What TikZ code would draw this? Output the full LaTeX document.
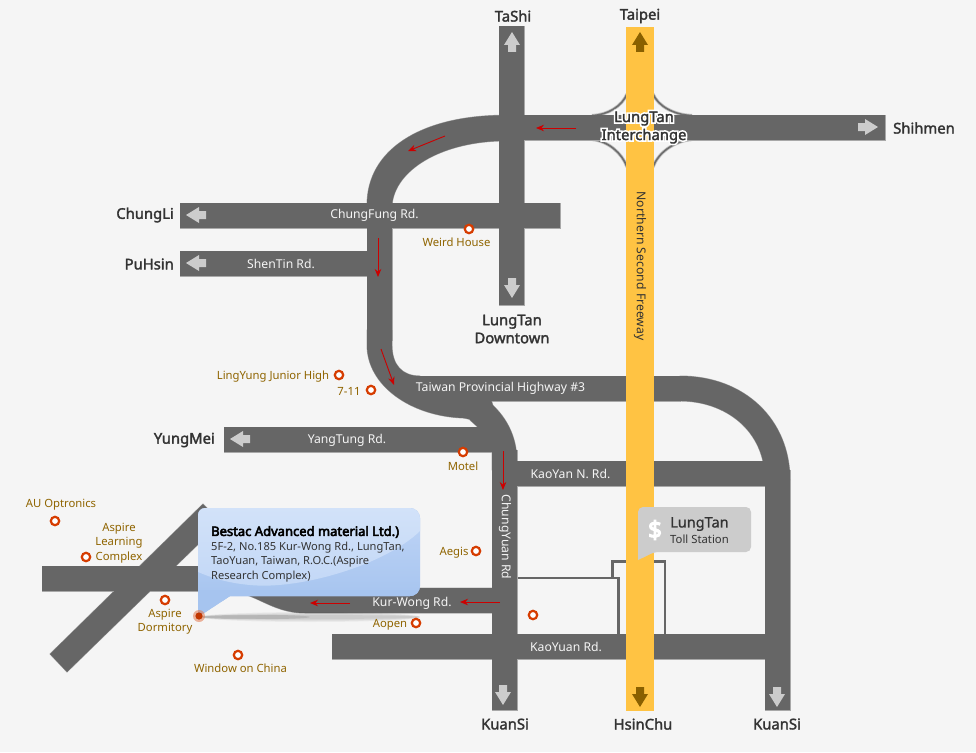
\documentclass[tikz,border=0pt]{standalone}
\usepackage{fontspec}
\setmainfont{Noto Sans}
\definecolor{bgc}{HTML}{F5F5F5}
\definecolor{roadc}{HTML}{666666}
\definecolor{edgec}{HTML}{A8A8A8}
\definecolor{fwy}{HTML}{FFC343}
\definecolor{brownc}{HTML}{8A6000}
\definecolor{lblc}{HTML}{8F6400}
\definecolor{cityc}{HTML}{333333}
\definecolor{redc}{HTML}{CC0000}
\definecolor{ringc}{HTML}{D63C00}
\definecolor{iconc}{HTML}{CCCCCC}
\definecolor{ramp}{HTML}{6E6E6E}
\definecolor{bluea}{HTML}{D2E2F9}
\definecolor{blueb}{HTML}{C2D7F6}
\definecolor{bluec}{HTML}{BBD2F5}
\definecolor{blued}{HTML}{A6C4EF}
\usetikzlibrary{arrows.meta}
\newcommand{\halo}[1]{\rlap{\addfontfeature{FakeBold=24}\color{white}#1}{\addfontfeature{FakeBold=2}#1}}
\tikzset{
  road/.style={fill=roadc},
  city/.style={font=\fontsize{14.8}{18}\selectfont\addfontfeature{FakeBold=2},text=cityc,inner sep=0pt,align=center},
  rlab/.style={font=\fontsize{12.2}{14}\selectfont,text=bgc,inner sep=0pt},
  plab/.style={font=\fontsize{11.3}{14.5}\selectfont,text=lblc,inner sep=0pt,align=center},
  ring/.style={circle,draw=ringc,fill=white,line width=2.2pt,minimum size=8.4pt,inner sep=0pt},
  redarrow/.style={draw=redc,line width=0.9pt,-{Stealth[length=8pt,width=6.5pt]}},
  rampline/.style={line width=3.2pt,draw=edgec!70},
  rampcore/.style={line width=1.6pt,draw=ramp},
  svc/.style={draw=roadc,line width=2.8pt,line join=miter},
}
% block arrow, default pointing up, around its centre
\newcommand{\blockarrow}[4]{% x, y of centre, rotation, colour
  \path[fill=#4,rotate around={#3:(#1,#2)}] (#1,#2)++(0,-10) -- ++(8,13) -- ++(-4,0) -- ++(0,7) -- ++(-8,0) -- ++(0,-7) -- ++(-4,0) -- cycle;}
\newcommand{\allroads}{%
  \path[road] (499,26) rectangle (524,305);
  \path[road] (505,115) rectangle (885,140);
  \path[road] (510,115) -- (499,115.3) .. controls (420,117) and (367,150) .. (367,205) -- (392,205) .. controls (395,170) and (440,143) .. (499,141) -- (510,140) -- cycle;
  \path[road] (180,203) rectangle (560,228);
  \path[road] (180,251) rectangle (380,276);
  \path[road] (367,200) rectangle (392,340);
  \path[road] (367,330) -- (367,345) .. controls (367,385) and (410,416) .. (463,418) .. controls (472,419) and (478,423) .. (484,428) -- (500,428) -- (488,390) -- (420,390) -- (420,376) .. controls (402,376) and (392,365) .. (392,345) -- (392,330) -- cycle;
  \path[road] (415,376) rectangle (680,401);
  \path[road] (680,376) .. controls (745,376) and (790,420) .. (790,480) -- (765,480) .. controls (765,430) and (725,401) .. (680,401) -- cycle;
  \path[road] (470,390) -- (488,401) .. controls (505,415) and (517,435) .. (517,462) -- (517,470) -- (492,470) -- (492,440) -- (470,420) -- cycle;
  \path[road] (224,427) rectangle (500,452);
  \path[road] (492,450) rectangle (517,710);
  \path[road] (510,461) rectangle (770,486);
  \path[road] (765,470) rectangle (790,710);
  \path[road] (332,634) rectangle (770,659);
  \path[road] (42,566) rectangle (230,591);
  \path[road] (225,566) -- (225,591) .. controls (255,591) and (270,613) .. (305,613) -- (500,613) -- (500,588) -- (305,588) -- (260,566) -- cycle;
  \path[road] (50,654) -- (67,672) -- (221,522) -- (203,504) -- cycle;
}
\begin{document}
\begin{tikzpicture}[x=1pt,y=-1pt]
\useasboundingbox (0,0) rectangle (976,752);
\fill[bgc] (0,0) rectangle (976,752);
% thin service roads
\draw[svc] (517,578) -- (618.5,578) -- (618.5,636);
\draw[svc] (612.5,578) -- (612.5,561.5) -- (665,561.5) -- (665,636);
% ramps
\foreach \st in {rampline,rampcore}{
  \draw[\st] (627,94) .. controls (622,106) and (608,115) .. (592,115.5);
  \draw[\st] (653,94) .. controls (658,106) and (674,115) .. (692,115.5);
  \draw[\st] (627,167) .. controls (622,153) and (608,141) .. (592,139.5);
  \draw[\st] (653,167) .. controls (658,153) and (674,141) .. (692,139.5);
}
% roads: edge pass, then fill pass
\begin{scope}[road/.style={fill=edgec,draw=edgec,line width=0.9pt}]
\allroads
\end{scope}
\allroads
% freeway
\fill[fwy] (626,27) rectangle (654,711);
% shadow under the callout
\foreach \ry in {5,4,3,2}{
  \fill[black,opacity=0.045] (310,617) ellipse [x radius=110, y radius=\ry];
}
\fill[black,opacity=0.10] (255,617) ellipse [x radius=55, y radius=2.2];
% block arrows
\blockarrow{512}{42}{0}{iconc}
\blockarrow{640}{42}{0}{brownc}
\blockarrow{512}{288}{180}{iconc}
\blockarrow{503}{695}{180}{iconc}
\blockarrow{640}{697}{180}{brownc}
\blockarrow{777}{697}{180}{iconc}
\blockarrow{868}{127}{-90}{iconc}
\blockarrow{196}{215}{90}{iconc}
\blockarrow{196}{263}{90}{iconc}
\blockarrow{240}{439}{90}{iconc}
% red arrows
\coordinate (ra1) at (576,128); \coordinate (ra1e) at (536,128);
\coordinate (ra2) at (445,136); \coordinate (ra2e) at (408,151);
\coordinate (ra3) at (378,238); \coordinate (ra3e) at (378,277);
\coordinate (ra4) at (381,349); \coordinate (ra4e) at (394,385);
\coordinate (ra5) at (503,451); \coordinate (ra5e) at (503,490);
\coordinate (ra6) at (500,602); \coordinate (ra6e) at (460,602);
\coordinate (ra7) at (350,603); \coordinate (ra7e) at (310,603);
\draw[redarrow] (ra1) -- (ra1e);
\draw[redarrow] (ra2) -- (ra2e);
\draw[redarrow] (ra3) -- (ra3e);
\draw[redarrow] (ra4) -- (ra4e);
\draw[redarrow] (ra5) -- (ra5e);
\draw[redarrow] (ra6) -- (ra6e);
\draw[redarrow] (ra7) -- (ra7e);
% city labels
\node[city] (tashi) at (513,16) {TaShi};
\node[city] (taipei) at (640,16) {Taipei};
\node[city,anchor=west] (shihmen) at (893,128) {Shihmen};
\node[city,anchor=east] (chungli) at (174,215) {ChungLi};
\node[city,anchor=east] (puhsin) at (174,264) {PuHsin};
\node[city,anchor=east] (yungmei) at (215,440) {YungMei};
\node[city] (downtown) at (512,329) {LungTan\\Downtown};
\node[city] (ks1) at (505,724) {KuanSi};
\node[city] (hc) at (643,724) {HsinChu};
\node[city] (ks2) at (777,724) {KuanSi};
% interchange label
\node[font=\fontsize{14.8}{18}\selectfont,text=cityc,inner sep=0pt,align=center] (inter) at (644,127.5) {\halo{LungTan}\\\halo{Interchange}};
% road labels
\node[rlab] (r1) at (374.5,215.5) {ChungFung Rd.};
\node[rlab] (r2) at (281,264) {ShenTin Rd.};
\node[rlab] (r3) at (500.5,388) {Taiwan Provincial Highway \#3};
\node[rlab] (r4) at (347,440) {YangTung Rd.};
\node[rlab] (r5) at (570.5,474) {KaoYan N. Rd.};
\node[rlab,rotate=-90] (r6) at (505,537) {ChungYuan Rd};
\node[rlab] (r7) at (412,603) {Kur-Wong Rd.};
\node[rlab] (r8) at (566,647) {KaoYuan Rd.};
\node[font=\fontsize{12.2}{14}\selectfont,text=cityc,inner sep=0pt,rotate=-90] (r9) at (640,266) {Northern Second Freeway};
% places
\node[ring] (p1) at (469,229) {};
\node[ring] (p2) at (339,375) {};
\node[ring] (p3) at (371,390) {};
\node[ring] (p4) at (463,452) {};
\node[ring] (p5) at (476,551) {};
\node[ring] (p6) at (55,521) {};
\node[ring] (p7) at (86,557) {};
\node[ring] (p8) at (165,600) {};
\node[ring] (p9) at (416,623) {};
\node[ring] (p10) at (238,655) {};
\node[ring] (p11) at (533,615) {};
\node[plab] (l1) at (456.5,242) {Weird House};
\node[plab] (l2) at (273,376.5) {LingYung Junior High};
\node[plab] (l3) at (349,391) {7-11};
\node[plab] (l4) at (463,466) {Motel};
\node[plab] (l5) at (454,552.5) {Aegis};
\node[plab] (l6) at (61,504.5) {AU Optronics};
\node[plab] (l7) at (119,543) {Aspire\\Learning\\Complex};
\node[plab] (l8) at (165,621.5) {Aspire\\Dormitory};
\node[plab] (l9) at (390,624.5) {Aopen};
\node[plab] (l10) at (240.5,668) {Window on China};
% toll callout
\path[fill=iconc,rounded corners=5pt] (638,560) -- (638,507) -- (751,507) -- (751,552) -- (654,552) -- cycle;
\fill[iconc] (638,560) -- (638,545) -- (654,552) -- cycle;
\node[font=\fontsize{24}{26}\selectfont\addfontfeature{FakeBold=5},text=white,inner sep=0pt] (dollar) at (655,530) {\$};
\node[font=\fontsize{14.5}{16}\selectfont\addfontfeature{FakeBold=1},text=cityc,inner sep=0pt,anchor=west] (tl1) at (670,524) {LungTan};
\node[font=\fontsize{11.3}{13}\selectfont,text=cityc,inner sep=0pt,anchor=west] (tl2) at (670,539.5) {Toll Station};
% main callout
\path[fill=blued] (198,617) -- (198,515) arc[start angle=180,end angle=270,radius=7] -- (410,508) arc[start angle=-90,end angle=0,radius=10] -- (420,586) arc[start angle=0,end angle=90,radius=10] -- (230,596) -- cycle;
\begin{scope}
\clip (198,617) -- (198,515) arc[start angle=180,end angle=270,radius=7] -- (410,508) arc[start angle=-90,end angle=0,radius=10] -- (420,586) arc[start angle=0,end angle=90,radius=10] -- (230,596) -- cycle;
\shade[top color=bluec,bottom color=blued] (198,525) rectangle (420,600);
\fill[blued] (198,590) rectangle (420,620);
\shade[top color=bluea,bottom color=blueb] (198,508) -- (420,508) -- (420,531) .. controls (385,565) and (300,590) .. (250,585) .. controls (228,583) and (212,578) .. (198,572) -- cycle;
\end{scope}
\node[font=\fontsize{13}{14}\selectfont\addfontfeature{FakeBold=4},text=black,inner sep=0pt,anchor=west] (ct) at (211,532) {Bestac Advanced material Ltd.)};
\node[font=\fontsize{11.1}{14.5}\selectfont,text=cityc,inner sep=0pt,anchor=north west,align=left] (cb) at (211,541.5) {5F-2, No.185 Kur-Wong Rd., LungTan,\\TaoYuan, Taiwan, R.O.C.(Aspire\\Research Complex)};
% location dot
\fill[ringc!70,opacity=0.55] (199,616) circle (6);
\fill[ringc!90!black] (199,616) circle (3.6);
\end{tikzpicture}
\end{document}
